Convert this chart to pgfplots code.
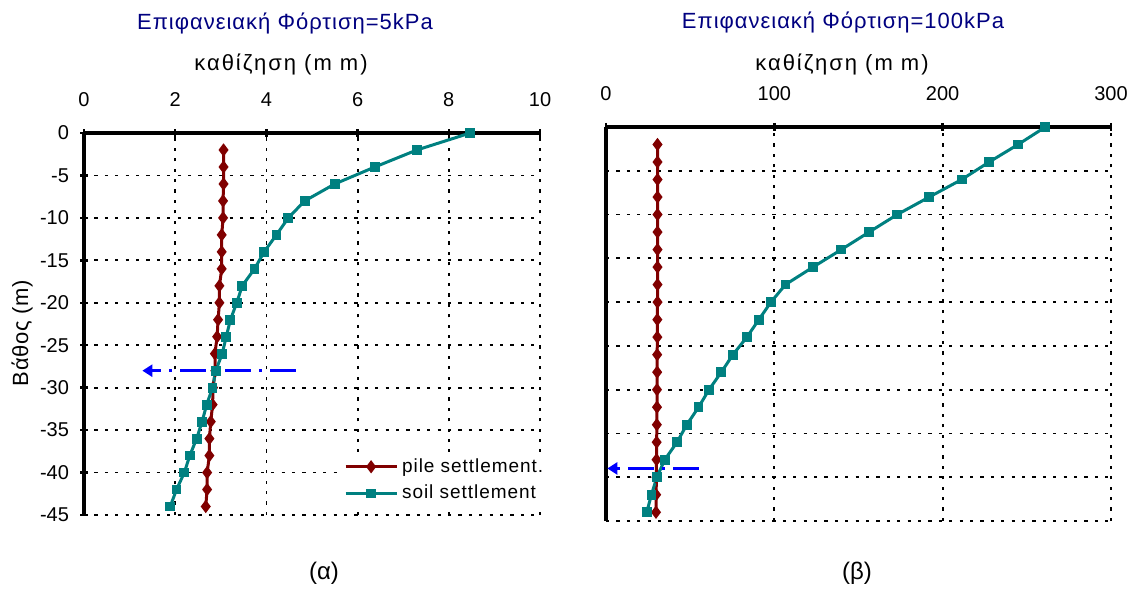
\documentclass[border=0pt]{standalone}
\usepackage{pgfplots}
\pgfplotsset{compat=1.18}
\usepackage{fontspec}
\setmainfont{Liberation Sans}
\newfontfamily\spacedA[LetterSpace=4.5]{Liberation Sans}
\newfontfamily\spacedB[LetterSpace=9]{Liberation Sans}
\newfontfamily\spacedC[LetterSpace=5]{Liberation Sans}
\newfontfamily\spacedD[LetterSpace=3]{Liberation Sans}
\usetikzlibrary{arrows.meta}
\definecolor{navytitle}{RGB}{0,0,128}
\definecolor{pilecol}{RGB}{128,0,0}
\definecolor{soilcol}{RGB}{0,128,128}
\begin{document}
\begin{tikzpicture}
\useasboundingbox (0,0) rectangle (567pt,294.5pt);
\pgfplotsset{
 myaxis/.style={scale only axis, axis x line*=top, axis y line*=left,
   grid=major, grid style={black, line width=0.9pt, dash pattern=on 1.6pt off 3.6pt},
   axis line style={line width=1.6pt, black},
   major tick length=4pt, tick align=center, tick style={black, line width=1.2pt},
   ymin=-45, ymax=0, ytick={-45,-40,...,0}, clip=false,
   tick label style={font=\fontsize{10}{12}\selectfont},
   xticklabel style={yshift=7.5pt},
   yticklabel style={xshift=-2pt},
   /pgf/number format/assume math mode=true},
 pile/.style={pilecol, line width=1.5pt, mark=diamond*, mark size=2.1pt, mark options={solid}},
 soil/.style={soilcol, line width=1.5pt, mark=square*, mark size=1.7pt, mark options={solid}},
 arr/.style={blue, line width=1.6pt, dash pattern=on 13pt off 4pt on 1.5pt off 4pt, -{Triangle[length=5pt,width=6pt]}, forget plot},
}
% Left axis
\begin{axis}[myaxis, at={(42pt,37pt)}, anchor=south west, width=228pt, height=191pt,
  xmin=0, xmax=10, xtick={0,2,...,10},
  legend style={draw=none, fill=white, at={(1.021,0.165)}, anchor=north east,
    font=\spacedC\fontsize{9.5}{11}\selectfont, row sep=1pt, inner sep=1pt},
  legend cell align=left,
  legend image code/.code={\draw[mark repeat=2, mark phase=2, #1] plot coordinates {(0pt,0pt) (12.75pt,0pt) (25.5pt,0pt)};}]
\addplot[pile] coordinates {(3.06,-2) (3.06,-4) (3.06,-6) (3.05,-8) (3.05,-10) (3.02,-12) (3.02,-14) (3.02,-16) (2.97,-18) (2.97,-20) (2.94,-22) (2.92,-24) (2.87,-26) (2.88,-28) (2.83,-30) (2.82,-32) (2.78,-34) (2.75,-36) (2.75,-38) (2.70,-40) (2.70,-42) (2.67,-44)};
\addlegendentry{pile settlement.}
\addplot[soil] coordinates {(8.47,0) (7.30,-2) (6.38,-4) (5.50,-6) (4.84,-8) (4.48,-10) (4.22,-12) (3.95,-14) (3.74,-16) (3.47,-18) (3.35,-20) (3.21,-22) (3.12,-24) (3.03,-26) (2.89,-28) (2.82,-30) (2.69,-32) (2.59,-34) (2.47,-36) (2.32,-38) (2.20,-40) (2.03,-42) (1.89,-44)};
\addlegendentry{soil settlement}
\addplot[arr] coordinates {(4.64,-28) (1.28,-28)};
\end{axis}
% Right axis
\begin{axis}[myaxis, at={(303pt,34pt)}, anchor=south west, width=252.5pt, height=197pt,
  xmin=0, xmax=300, xtick={0,100,200,300}, yticklabels={}, ytick style={draw=none}]
\addplot[pile] coordinates {(30.6,-2) (30.6,-4) (30.6,-6) (30.6,-8) (30.6,-10) (30.6,-12) (30.6,-14) (30.6,-16) (30.6,-18) (30.6,-20) (30.5,-22) (30.5,-24) (30.4,-26) (30.4,-28) (30.3,-30) (30.3,-32) (30.2,-34) (30.1,-36) (30.0,-38) (29.9,-40) (29.8,-42) (29.7,-44)};
\addplot[soil] coordinates {(261,0) (244.8,-2) (227.6,-4) (211.3,-6) (192,-8) (173,-10) (156.3,-12) (139.8,-14) (123,-16) (106.6,-18) (98,-20) (90.8,-22) (83.7,-24) (75.4,-26) (68.5,-28) (61.2,-30) (55,-32) (48,-34) (42.2,-36) (34.9,-38) (30.2,-40) (27,-42) (24.2,-44)};
\addplot[arr] coordinates {(55.2,-39) (0.8,-39)};
\end{axis}
% Texts
\node[navytitle, font=\spacedA\fontsize{11}{13}\selectfont] at (142.5pt,282.5pt) {Επιφανειακή Φόρτιση=5kPa};
\node[navytitle, font=\spacedA\fontsize{11}{13}\selectfont] at (421.5pt,283pt) {Επιφανειακή Φόρτιση=100kPa};
\node[font=\spacedB\fontsize{11}{13}\selectfont] at (140.5pt,262.5pt) {καθίζηση (m m)};
\node[font=\spacedB\fontsize{11}{13}\selectfont] at (421pt,262.5pt) {καθίζηση (m m)};
\node[font=\spacedD\fontsize{11}{13}\selectfont, rotate=90] at (11pt,128pt) {Βάθος (m)};
\node[font=\fontsize{12}{14}\selectfont] at (162pt,8pt) {(α)};
\node[font=\fontsize{12}{14}\selectfont] at (428.5pt,8pt) {(β)};
\end{tikzpicture}
\end{document}
